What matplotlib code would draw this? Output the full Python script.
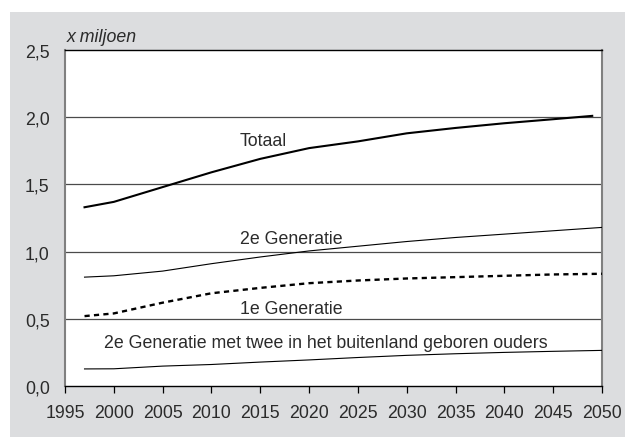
import matplotlib.pyplot as plt
from matplotlib.patches import Rectangle

plt.rcParams['font.family'] = ['Liberation Sans', 'DejaVu Sans']

# Data (x miljoen)
years_tot = [1997, 2000, 2005, 2010, 2015, 2020, 2025, 2030, 2035, 2040, 2045, 2049]
totaal = [1.33, 1.37, 1.48, 1.59, 1.69, 1.77, 1.82, 1.88, 1.92, 1.955, 1.985, 2.01]

years = [1997, 2000, 2005, 2010, 2015, 2020, 2025, 2030, 2035, 2040, 2045, 2050]
gen2 = [0.81, 0.82, 0.855, 0.91, 0.96, 1.005, 1.04, 1.075, 1.105, 1.13, 1.155, 1.18]
gen1 = [0.52, 0.54, 0.62, 0.69, 0.73, 0.765, 0.785, 0.80, 0.81, 0.82, 0.83, 0.835]
gen2_buitenland = [0.127, 0.128, 0.148, 0.16, 0.178, 0.194, 0.212, 0.228, 0.24, 0.25, 0.258, 0.265]

x_ticks = list(range(1995, 2051, 5))
y_ticks = [0.0, 0.5, 1.0, 1.5, 2.0, 2.5]
y_labels = ['0,0', '0,5', '1,0', '1,5', '2,0', '2,5']

fs = 12.8
fig = plt.figure(figsize=(6.33, 4.39), dpi=100)
fig.patches.append(Rectangle((10 / 633, 1 / 439), 615 / 633, 425 / 439,
                             transform=fig.transFigure, facecolor='#dcdddf',
                             edgecolor='none', zorder=-10))
ax = fig.add_axes([65 / 633, 52 / 439, 537 / 633, 336 / 439])
ax.set_zorder(5)
ax.set_facecolor('white')

# grid lines
for y in [0.5, 1.0, 1.5, 2.0]:
    ax.axhline(y, color='#4a4a4a', lw=0.9, zorder=1)

ax.plot(years_tot, totaal, color='black', lw=1.5, zorder=3)
ax.plot(years, gen2, color='black', lw=0.8, zorder=3)
ax.plot(years, gen1, color='black', lw=1.7, dashes=(2.2, 1.8), zorder=3)
ax.plot(years, gen2_buitenland, color='black', lw=0.8, zorder=3)

txt = dict(fontsize=fs, color='#2b2b2b', ha='center', va='center')
ax.text(2015.3, 1.83, 'Totaal', **txt)
ax.text(2018.2, 1.10, '2e Generatie', **txt)
ax.text(2018.2, 0.58, '1e Generatie', **txt)
ax.text(2021.7, 0.326, '2e Generatie met twee in het buitenland geboren ouders', **txt)

ax.set_xlim(1995, 2050)
ax.set_ylim(0, 2.5)
ax.set_xticks(x_ticks)
ax.set_yticks(y_ticks)
ax.set_yticklabels(y_labels)
ax.tick_params(axis='y', length=0, pad=11, labelsize=fs, labelcolor='#2b2b2b')
ax.tick_params(axis='x', length=5, width=0.9, direction='out', pad=8,
               labelsize=fs, labelcolor='#2b2b2b')

for side in ['top', 'bottom']:
    ax.spines[side].set_color('black')
    ax.spines[side].set_linewidth(1.0)
for side in ['left', 'right']:
    ax.spines[side].set_color('#808080')
    ax.spines[side].set_linewidth(1.5)

fig.text(67 / 633, 1 - 37 / 439, 'x miljoen', fontsize=fs, style='italic',
         color='#2b2b2b', ha='left', va='center')

fig.savefig('out.png', dpi=100, facecolor='white')
